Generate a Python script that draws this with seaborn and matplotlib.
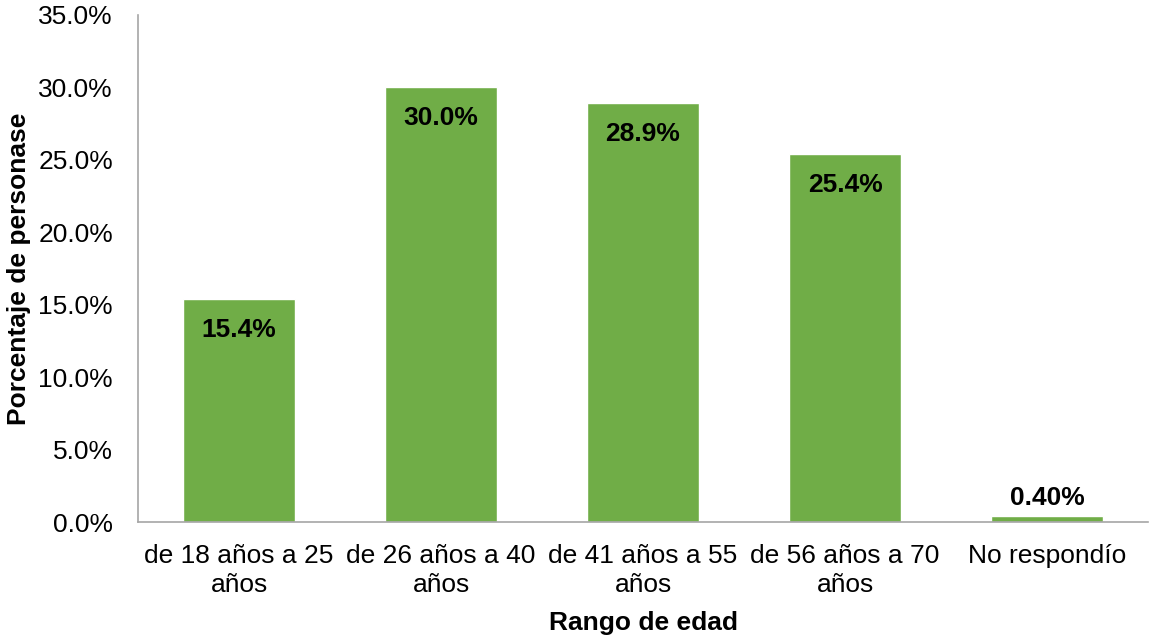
import matplotlib
matplotlib.use("Agg")
import matplotlib.pyplot as plt
import seaborn as sns
import pandas as pd
from matplotlib.ticker import FuncFormatter

categories = ["de 18 años a 25\naños", "de 26 años a 40\naños", "de 41 años a 55\naños",
              "de 56 años a 70\naños", "No respondío"]
values = [15.4, 30.0, 28.9, 25.4, 0.4]
labels = ["15.4%", "30.0%", "28.9%", "25.4%", "0.40%"]

df = pd.DataFrame({"cat": categories, "val": values})

sns.set_theme(style="white")
plt.rcParams['font.family'] = ['Liberation Sans', 'DejaVu Sans']

FS = 19

fig = plt.figure(figsize=(11.51, 6.37), dpi=100)
ax = fig.add_axes([0.1199, 0.1805, 0.8775, 0.796])

sns.barplot(data=df, x="cat", y="val", color="#70AD47", saturation=1, width=0.555, ax=ax)

for i, (v, lab) in enumerate(zip(values, labels)):
    if v > 5:
        ax.text(i, v - 1.3, lab, ha="center", va="top", fontsize=FS, fontweight="bold", color="black")
    else:
        ax.text(i, v + 0.45, lab, ha="center", va="bottom", fontsize=FS, fontweight="bold", color="black")

ax.set_ylim(0, 35)
ax.set_yticks([0, 5, 10, 15, 20, 25, 30, 35])
ax.yaxis.set_major_formatter(FuncFormatter(lambda y, _: f"{y:.1f}%"))
ax.tick_params(axis="both", labelsize=FS, length=0, colors="black")
ax.tick_params(axis="y", pad=18)
ax.tick_params(axis="x", pad=16)
for lab in ax.get_xticklabels():
    lab.set_linespacing(1.25)

ax.set_xlabel("Rango de edad", fontsize=FS, fontweight="bold", labelpad=10, color="black")
ax.set_ylabel("Porcentaje de personase", fontsize=FS, fontweight="bold", labelpad=5, color="black")

for s in ["top", "right"]:
    ax.spines[s].set_visible(False)
for s in ["left", "bottom"]:
    ax.spines[s].set_color("#A6A6A6")
    ax.spines[s].set_linewidth(1.2)

fig.savefig("out.png", dpi=100)
